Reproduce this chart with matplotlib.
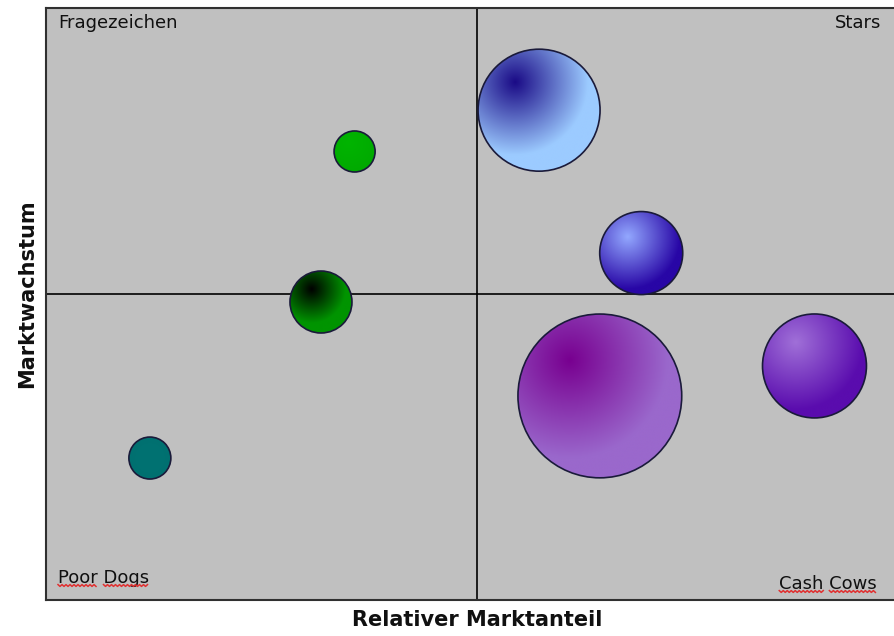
import numpy as np
import matplotlib
matplotlib.use("Agg")
import matplotlib.pyplot as plt
from matplotlib.patches import Ellipse
from matplotlib.colors import to_rgb

# ---------------- data ----------------
products = ["P1", "P2", "P3", "P4", "P5", "P6", "P7"]
rel_share = [1.144, 0.716, 0.638, 0.241, 1.381, 1.285, 1.783]     # relativer Marktanteil
growth = [16.01, 14.66, 9.74, 4.64, 11.34, 6.67, 7.65]             # Marktwachstum
radius = [0.1415, 0.0476, 0.0719, 0.0487, 0.0963, 0.190, 0.1206]  # bubble radius (x units)
center_col = ["#1a0a86", "#00b400", "#000000", "#007272", "#93a8ff", "#780090", "#a070d8"]
edge_col = ["#9ccbff", "#00aa00", "#009400", "#007070", "#2806a6", "#9a68cc", "#5a0cae"]
hl_x = [-0.39, -0.3, -0.30, 0.0, -0.34, -0.37, -0.37]
hl_y = [0.46, 0.4, 0.42, 0.0, 0.39, 0.44, 0.46]
spread = [1.2, 1.4, 1.1, 1.4, 1.25, 1.2, 1.3]

x_div, y_div = 1.0, 10.0
x_lim = (0.0, 1.9675)
y_lim = (0.0, 19.35)

quad_labels = ["Fragezeichen", "Stars", "Poor Dogs", "Cash Cows"]
xlabel = "Relativer Marktanteil"
ylabel = "Marktwachstum"

# ---------------- figure ----------------
W, H = 894, 636
fig = plt.figure(figsize=(W / 100, H / 100), dpi=100)
ax = fig.add_axes([46 / W, 36 / H, 848 / W, 592 / H])
ax.set_facecolor("#c0c0c0")
ax.set_xlim(*x_lim)
ax.set_ylim(*y_lim)
ax.set_xticks([])
ax.set_yticks([])
for s in ["left", "top", "bottom"]:
    ax.spines[s].set_color("#303030")
    ax.spines[s].set_linewidth(1.5)
ax.spines["right"].set_visible(False)

ax.axvline(x_div, color="black", lw=1.2, zorder=1)
ax.axhline(y_div, color="black", lw=1.2, zorder=1)

# pixel scale ratio
p0 = ax.transData.transform((0, 0))
p1 = ax.transData.transform((1, 1))
ppx = p1[0] - p0[0]
ppy = p1[1] - p0[1]

N = 300
u = np.linspace(-1, 1, N)
U, V = np.meshgrid(u, u)
for i in range(len(products)):
    cx, cy, r = rel_share[i], growth[i], radius[i]
    ry = r * ppx / ppy
    d = np.sqrt((U - hl_x[i]) ** 2 + (V - hl_y[i]) ** 2)
    t = np.clip(d / spread[i], 0, 1)[..., None]
    c0 = np.array(to_rgb(center_col[i]))
    c1 = np.array(to_rgb(edge_col[i]))
    img = c0 * (1 - t) + c1 * t
    ell = Ellipse((cx, cy), 2 * r, 2 * ry, facecolor="none",
                  edgecolor="#1a1a3a", lw=1.2, zorder=4)
    ax.add_patch(ell)
    im = ax.imshow(img, extent=[cx - r, cx + r, cy - ry, cy + ry], origin="lower",
                   aspect="auto", interpolation="bilinear", zorder=3)
    im.set_clip_path(ell)

ax.set_xlim(*x_lim)
ax.set_ylim(*y_lim)

fs = 13
tk = dict(fontsize=fs, color="#101010", family="DejaVu Sans")
ax.text(12 / 848, 1 - 15 / 592, quad_labels[0], transform=ax.transAxes, ha="left", va="center", **tk)
ax.text(1 - 13 / 848, 1 - 15 / 592, quad_labels[1], transform=ax.transAxes, ha="right", va="center", **tk)
t_pd = ax.text(12 / 848, 22 / 592, quad_labels[2], transform=ax.transAxes, ha="left", va="center", **tk)
t_cc = ax.text(1 - 17 / 848, 16 / 592, quad_labels[3], transform=ax.transAxes, ha="right", va="center", **tk)

fig.text(477 / W, 1 - 620 / H, xlabel, ha="center", va="center", fontsize=15,
         fontweight="bold", color="#101010")
fig.text(27 / W, 1 - 294 / H, ylabel, ha="center", va="center", rotation=90,
         fontsize=15, fontweight="bold", color="#101010")

# spell-check squiggles under two labels
fig.canvas.draw()
rend = fig.canvas.get_renderer()
for txt in (t_pd, t_cc):
    bb = txt.get_window_extent(rend)
    words = txt.get_text().split(" ")
    tmp = ax.text(0, 0, words[0], **tk)
    w1 = tmp.get_window_extent(rend).width
    tmp.remove()
    tmp = ax.text(0, 0, words[1], **tk)
    w2 = tmp.get_window_extent(rend).width
    tmp.remove()
    ybase = bb.y0 + 1.5
    for xa, xb in ((bb.x0, bb.x0 + w1), (bb.x1 - w2, bb.x1)):
        xs = np.arange(xa, xb, 2.0)
        ys = ybase + np.where(np.arange(len(xs)) % 2 == 0, 0.9, -0.9)
        fig.add_artist(plt.Line2D(xs, ys, transform=None, color="#e03030", lw=1.1))

fig.savefig("out.png", dpi=100)
